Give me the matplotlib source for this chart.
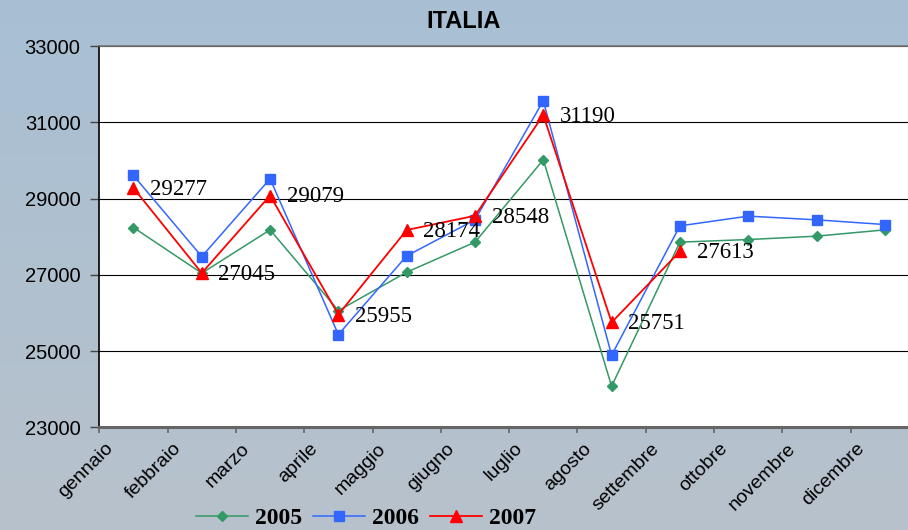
import numpy as np
import matplotlib
matplotlib.use("Agg")
import matplotlib.pyplot as plt
from matplotlib.lines import Line2D

months = ["gennaio", "febbraio", "marzo", "aprile", "maggio", "giugno",
          "luglio", "agosto", "settembre", "ottobre", "novembre", "dicembre"]
v2005 = [28239, 27042, 28178, 26060, 27068, 27856, 30016, 24076, 27856, 27924, 28013, 28178]
v2006 = [29604, 27478, 29517, 25431, 27496, 28441, 31564, 24890, 28283, 28538, 28441, 28318]
v2007 = [29277, 27045, 29079, 25955, 28174, 28548, 31190, 25751, 27613]
yticks = [23000, 25000, 27000, 29000, 31000, 33000]

fig = plt.figure(figsize=(9.08, 5.30), dpi=100)

# background gradient
bg = fig.add_axes([0, 0, 1, 1], zorder=-10)
grad = np.linspace(0, 1, 256).reshape(-1, 1)
top = np.array([0.66, 0.75, 0.83])
bot = np.array([0.72, 0.76, 0.80])
img = top[None, None, :] * (1 - grad[:, :, None]) + bot[None, None, :] * grad[:, :, None]
bg.imshow(img, aspect="auto", extent=[0, 1, 0, 1])
bg.axis("off")

L, B, T = 99.3 / 908, (530 - 427.3) / 530, 1 - 46 / 530
R = 919 / 908
ax = fig.add_axes([L, B, R - L, T - B])
ax.set_facecolor("white")

x = np.arange(len(months))
green, blue, red = "#339966", "#3366FF", "#FF0000"
ax.plot(x, v2005, color=green, lw=1.1, marker="D", ms=5, zorder=3, label="2005")
ax.plot(x, v2006, color=blue, lw=1.1, marker="s", ms=6.5, zorder=4, label="2006")
ax.plot(x[:len(v2007)], v2007, color=red, lw=1.3, marker="^", ms=8, zorder=5, label="2007")

for xi, v in zip(x, v2007):
    ax.annotate(str(v), (xi, v), xytext=(12, -1), textcoords="offset points",
                fontsize=16.5, family="Liberation Serif", va="center", ha="left",
                color="black", zorder=6)

ax.set_xlim(-0.5, 11.5)
ax.set_ylim(23000, 33000)
ax.set_yticks(yticks)
ax.set_yticklabels([str(t) for t in yticks], fontsize=14.5, family="Liberation Sans")
ax.yaxis.grid(True, color="black", lw=0.8)
ax.set_axisbelow(True)

# labels (no tick marks), slightly right of the category boundaries
ax.set_xticks(x - 0.5 + 0.16)
ax.set_xticklabels(months, fontsize=14, family="Liberation Sans", rotation=45,
                   ha="right", va="center", rotation_mode="anchor")
# tick marks at category boundaries
ax.set_xticks(x - 0.5, minor=True)

ax.tick_params(axis="y", length=6.5, width=1, color="#444444", pad=7, direction="out")
ax.tick_params(axis="x", which="major", length=4.5, width=0, pad=9)
ax.tick_params(axis="x", which="minor", length=4.5, width=1.2, color="#666666", direction="out")

ax.spines["left"].set_color("black")
ax.spines["left"].set_linewidth(1.2)
ax.spines["bottom"].set_color("#666666")
ax.spines["bottom"].set_linewidth(2.2)
ax.spines["top"].set_color("#777777")
ax.spines["top"].set_linewidth(1.2)
ax.spines["right"].set_visible(False)

fig.text(464 / 908, 1 - 22 / 530, "ITALIA", fontsize=17, fontweight="bold",
         family="Liberation Sans", ha="center", va="center")

handles = [
    Line2D([], [], color=green, lw=1.1, marker="D", ms=5),
    Line2D([], [], color=blue, lw=1.1, marker="s", ms=6.5),
    Line2D([], [], color=red, lw=1.3, marker="^", ms=8),
]
fig.legend(handles, ["2005", "2006", "2007"], loc="center", ncol=3,
           bbox_to_anchor=(366 / 908, 12 / 530), frameon=False,
           prop={"family": "Liberation Serif", "weight": "bold", "size": 17},
           handlelength=2.2, handletextpad=0.3, columnspacing=0.45,
           borderpad=0, borderaxespad=0)

fig.savefig("out.png", dpi=100)
